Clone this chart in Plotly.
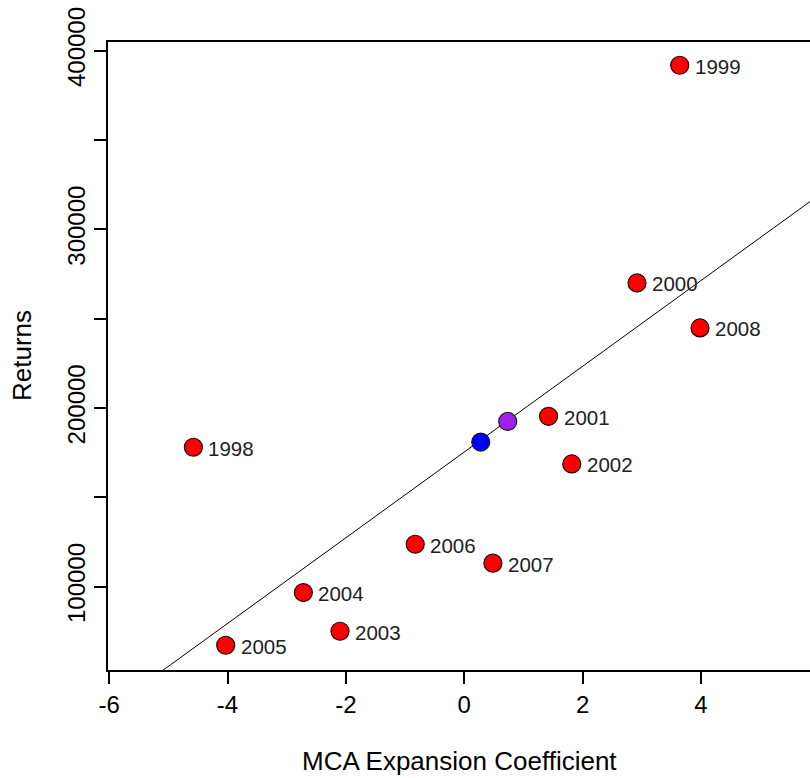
import numpy as np
import plotly.graph_objects as go

# Yearly observations: MCA expansion coefficient vs. returns
years = ["1998", "1999", "2000", "2001", "2002", "2003",
         "2004", "2005", "2006", "2007", "2008"]
coef = [-4.577, 3.642, 2.920, 1.425, 1.818, -2.099,
        -2.718, -4.031, -0.828, 0.485, 3.985]
returns = [178000, 391800, 269970, 195300, 168650, 75000,
           96670, 67170, 123700, 113130, 244780]

# Two highlighted reference points
ref_coef = [0.279, 0.735]
ref_returns = [180900, 192440]
ref_colors = ["#0000FF", "#A020F0"]

# Fitted line
fit_intercept = 175300
fit_slope = 23990

# Axis settings
x_range = [-6.02, 5.844]
y_range = [53316, 404814]
x_ticks = [-6, -4, -2, 0, 2, 4]
x_ticktext = ["-6", "-4", "-2", "0", "2", "4"]
y_ticks = [100000, 150000, 200000, 250000, 300000, 350000, 400000]
y_ticktext = ["100000", "", "200000", "", "300000", "", "400000"]

FONT = "Liberation Sans, Arial, sans-serif"

fig = go.Figure()

fit_x = np.array(x_range)
fig.add_trace(go.Scatter(
    x=fit_x, y=fit_intercept + fit_slope * fit_x,
    mode="lines", line=dict(color="black", width=1),
    hoverinfo="skip", showlegend=False))

fig.add_trace(go.Scatter(
    x=coef, y=returns, mode="markers",
    marker=dict(color="#FF0000", size=18,
                line=dict(color="#2a0000", width=1.2)),
    showlegend=False))

fig.add_trace(go.Scatter(
    x=ref_coef, y=ref_returns, mode="markers",
    marker=dict(color=ref_colors, size=18,
                line=dict(color="#1a1a1a", width=1.2)),
    showlegend=False))

# Year labels to the right of each point
for xv, yv, lab in zip(coef, returns, years):
    fig.add_annotation(x=xv, y=yv, text=lab, showarrow=False,
                       xanchor="left", yanchor="middle", xshift=13, yshift=-1,
                       font=dict(family=FONT, size=20.5, color="#222222"))

# Axis titles
fig.add_annotation(x=0.5, y=0, xref="paper", yref="paper", text="MCA Expansion Coefficient",
                   showarrow=False, xanchor="center", yanchor="middle", yshift=-91,
                   font=dict(family=FONT, size=26, color="black"))
fig.add_annotation(x=0, y=0.5, xref="paper", yref="paper", text="Returns",
                   showarrow=False, textangle=-90, xanchor="center", yanchor="middle",
                   xshift=-86, font=dict(family=FONT, size=26, color="black"))

fig.update_xaxes(range=x_range, tickvals=x_ticks, ticktext=x_ticktext, ticks="outside",
                 ticklen=12, tickcolor="black", tickwidth=1.5, showline=True,
                 linecolor="black", linewidth=1.5, mirror=True, showgrid=False,
                 zeroline=False, tickfont=dict(family=FONT, size=24, color="black"))
fig.update_yaxes(range=y_range, tickvals=y_ticks, ticktext=y_ticktext, tickangle=-90,
                 ticks="outside", ticklen=12, tickcolor="black", tickwidth=1.5,
                 showline=True, linecolor="black", linewidth=1.5, showgrid=False,
                 zeroline=False, tickfont=dict(family=FONT, size=24, color="black"))

fig.update_layout(width=810, height=778, margin=dict(l=108, r=0, t=42, b=108),
                  plot_bgcolor="white", paper_bgcolor="white")

fig.write_html("out.html")
